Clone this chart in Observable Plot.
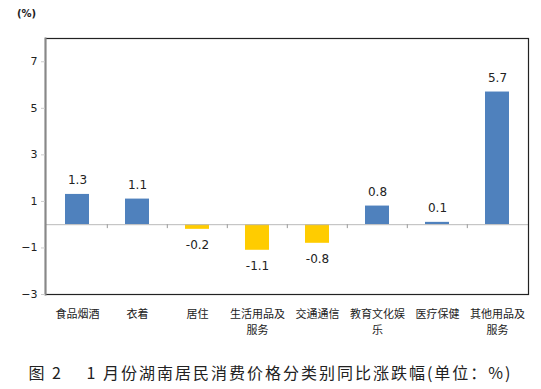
<!DOCTYPE html>
<html>
<head>
<meta charset="utf-8">
<script src="https://cdn.jsdelivr.net/npm/d3@7"></script>
<script src="https://cdn.jsdelivr.net/npm/@observablehq/plot@0.6"></script>
<style>
  body { margin: 0; background: #fff; }
  #wrap { width: 541px; height: 389px; position: relative; }
  #caption { position: absolute; left: 0; top: 360px; width: 541px; text-align: center;
    font-family: "Noto Sans CJK SC", sans-serif; font-size: 16px; color: #222; letter-spacing: 2px; line-height: 24px; }
  #unit { position: absolute; left: 17px; top: 8px; font-family: "DejaVu Sans", sans-serif; font-size: 10px; font-weight: bold; color: #222; }
</style>
</head>
<body>
<div id="wrap"><div id="chart"></div><div id="unit">(%)</div><div id="caption">图 2　 1 月份湖南居民消费价格分类别同比涨跌幅(单位：%)</div></div>
<script>
const categories = ["食品烟酒", "衣着", "居住", "生活用品及服务", "交通通信", "教育文化娱乐", "医疗保健", "其他用品及服务"];
const categoryLabels = ["食品烟酒", "衣着", "居住", "生活用品及\n服务", "交通通信", "教育文化娱\n乐", "医疗保健", "其他用品及\n服务"];
const values = [1.3, 1.1, -0.2, -1.1, -0.8, 0.8, 0.1, 5.7];
const yTicks = [-3, -1, 1, 3, 5, 7];

const data = categories.map((c, i) => ({cat: c, label: categoryLabels[i], value: values[i]}));
const labelOf = new Map(data.map(d => [d.cat, d.label]));
const pos = data.filter(d => d.value >= 0);
const neg = data.filter(d => d.value < 0);

const chart = Plot.plot({
  width: 541,
  height: 345,
  marginLeft: 45,
  marginRight: 13,
  marginTop: 38,
  marginBottom: 51,
  style: {fontFamily: "'Noto Sans CJK SC', sans-serif", fontSize: "11px", color: "#222"},
  x: {domain: categories, paddingInner: 0.6, paddingOuter: 0.3, label: null},
  y: {domain: [-3, 8], label: null},
  marks: [
    Plot.barY(data, {x: "cat", y: "value", fill: d => d.value >= 0 ? "#4F81BD" : "#FFCC00"}),
    Plot.ruleY([0], {stroke: "#bbb", strokeWidth: 1}),
    Plot.ruleX(categories.slice(1), {x: d => d, y1: 0, y2: -0.17, stroke: "#999", dx: -30.2}),
    Plot.frame({stroke: "#222", strokeWidth: 1.2}),
    Plot.frame({anchor: "left", stroke: "#888", strokeWidth: 2}),
    Plot.axisY({ticks: yTicks, tickSize: 4, stroke: "#ccc", tickPadding: 4, fontFamily: "'DejaVu Sans', sans-serif", fontSize: 11, fill: "#222"}),
    Plot.axisX({tickSize: 0, tickPadding: 12, tickFormat: c => labelOf.get(c), lineHeight: 1.45, fontSize: 11}),
    Plot.text(pos, {x: "cat", y: "value", text: d => d.value.toFixed(1), dy: -14,
      fontFamily: "'DejaVu Sans', sans-serif", fontSize: 12, fill: "#222"}),
    Plot.text(neg, {x: "cat", y: "value", text: d => d.value.toFixed(1), dy: 16,
      fontFamily: "'DejaVu Sans', sans-serif", fontSize: 12, fill: "#222"})
  ]
});
document.getElementById("chart").appendChild(chart);
</script>
</body>
</html>
